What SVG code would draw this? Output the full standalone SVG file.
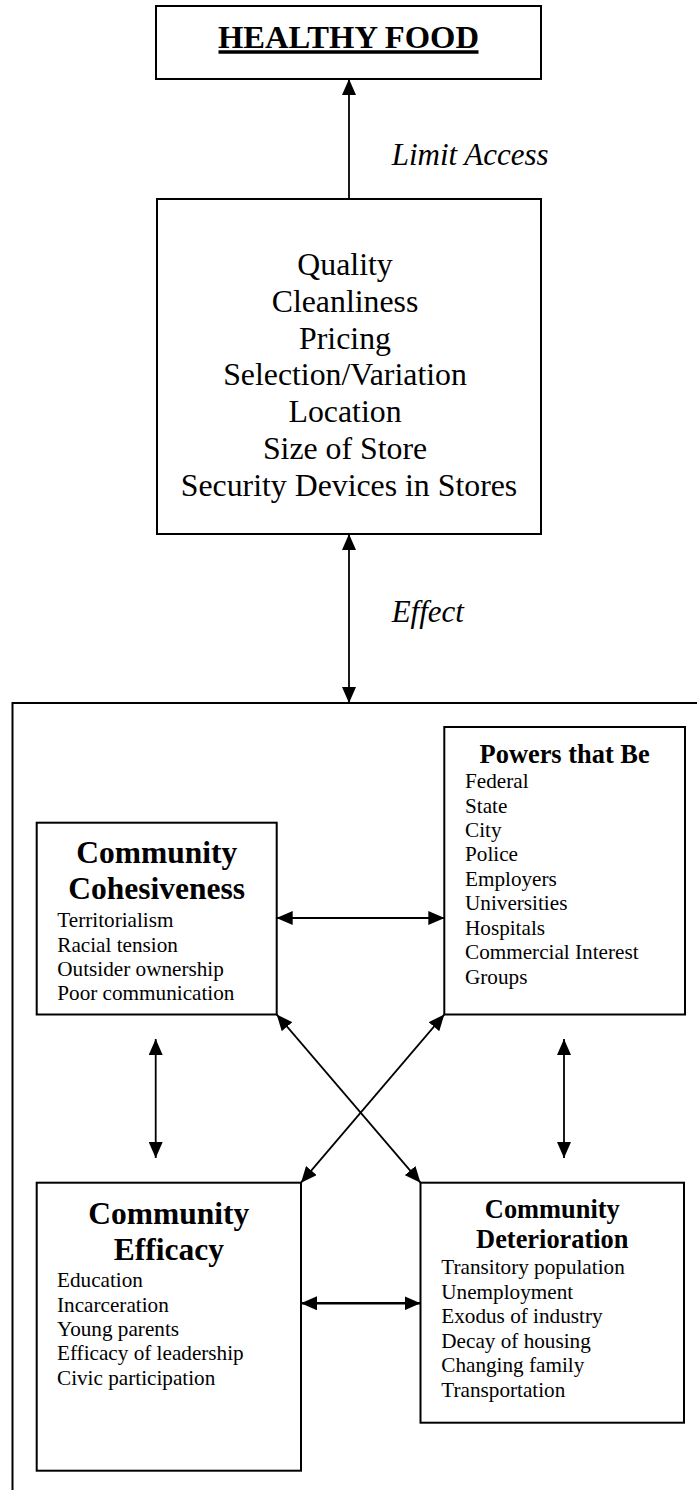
<svg xmlns="http://www.w3.org/2000/svg" width="698" height="1490" viewBox="0 0 698 1490">
<defs>
<style>
.box{fill:#fff;stroke:#000;stroke-width:2}
.frame{fill:none;stroke:#000;stroke-width:2}
.con{fill:none;stroke:#000;stroke-width:1.8}
.t{font-family:"Liberation Serif","Times New Roman",serif;fill:#000}
.big{font-size:31.8px}
.it{font-style:italic;font-size:31px}
.ttl{font-weight:bold;font-size:31.5px}
.ttl2{font-weight:bold;font-size:26.4px}
.body{font-size:21.2px}
</style>
<marker id="ah" viewBox="0 0 16 14" markerWidth="16" markerHeight="14" refX="16" refY="7" orient="auto-start-reverse" markerUnits="userSpaceOnUse">
<path d="M0,0 L16,7 L0,14 z" fill="#000"/>
</marker>
</defs>
<rect width="698" height="1490" fill="#fff"/>

<g id="connectors">
<line class="con" x1="349" y1="199" x2="349" y2="79" marker-end="url(#ah)"/>
<line class="con" x1="349" y1="534" x2="349" y2="703" marker-start="url(#ah)" marker-end="url(#ah)"/>
<line class="con" x1="276.7" y1="918" x2="444.3" y2="918" marker-start="url(#ah)" marker-end="url(#ah)"/>
<line class="con" x1="155.7" y1="1039" x2="155.7" y2="1158" marker-start="url(#ah)" marker-end="url(#ah)"/>
<line class="con" x1="564" y1="1039" x2="564" y2="1158" marker-start="url(#ah)" marker-end="url(#ah)"/>
<line class="con" x1="276.7" y1="1014.5" x2="420.5" y2="1182.7" marker-start="url(#ah)" marker-end="url(#ah)"/>
<line class="con" x1="444.3" y1="1014.5" x2="301" y2="1182.7" marker-start="url(#ah)" marker-end="url(#ah)"/>
<line class="con" style="stroke-width:2.6" x1="301" y1="1303.3" x2="420.5" y2="1303.3" marker-start="url(#ah)" marker-end="url(#ah)"/>
<text class="t it" x="391.7" y="165">Limit Access</text>
<text class="t it" x="391.7" y="621.7">Effect</text>
</g>

<g id="healthy-food">
<rect class="box" x="156" y="6" width="385" height="73"/>
<text class="t" x="348.5" y="48" text-anchor="middle" font-weight="bold" font-size="32.6">HEALTHY FOOD</text>
<line x1="218.5" y1="52" x2="478.5" y2="52" stroke="#000" stroke-width="3.5"/>
</g>

<g id="store-factors">
<rect class="box" x="157" y="199" width="384" height="335"/>
<text class="t big" text-anchor="middle">
<tspan x="349" y="275">Quality</tspan>
<tspan x="349" y="311.8">Cleanliness</tspan>
<tspan x="349" y="348.6">Pricing</tspan>
<tspan x="349" y="385.4">Selection/Variation</tspan>
<tspan x="349" y="422.2">Location</tspan>
<tspan x="349" y="459">Size of Store</tspan>
<tspan x="349" y="495.8">Security Devices in Stores</tspan>
</text>
</g>

<g id="community-frame">
<path class="frame" d="M12.5,1490 L12.5,703 L697,703"/>
</g>

<g id="cohesiveness">
<rect class="box" x="36.7" y="822.7" width="240" height="191.8"/>
<text class="t ttl" text-anchor="middle"><tspan x="156.7" y="863.3">Community</tspan><tspan x="156.7" y="899.3">Cohesiveness</tspan></text>
<text class="t body">
<tspan x="57.3" y="927.3">Territorialism</tspan>
<tspan x="57.3" y="951.7">Racial tension</tspan>
<tspan x="57.3" y="976">Outsider ownership</tspan>
<tspan x="57.3" y="1000">Poor communication</tspan>
</text>
</g>

<g id="powers">
<rect class="box" x="444.3" y="727" width="240.7" height="287.5"/>
<text class="t ttl2" x="564.6" y="762.7" text-anchor="middle">Powers that Be</text>
<text class="t body">
<tspan x="465" y="788.3">Federal</tspan>
<tspan x="465" y="812.6">State</tspan>
<tspan x="465" y="836.9">City</tspan>
<tspan x="465" y="861.2">Police</tspan>
<tspan x="465" y="885.5">Employers</tspan>
<tspan x="465" y="910">Universities</tspan>
<tspan x="465" y="934.6">Hospitals</tspan>
<tspan x="465" y="959.3">Commercial Interest</tspan>
<tspan x="465" y="984">Groups</tspan>
</text>
</g>

<g id="efficacy">
<rect class="box" x="36.7" y="1182.7" width="264.3" height="288"/>
<text class="t ttl" text-anchor="middle"><tspan x="168.8" y="1224">Community</tspan><tspan x="168.8" y="1260">Efficacy</tspan></text>
<text class="t body">
<tspan x="57" y="1287.3">Education</tspan>
<tspan x="57" y="1311.5">Incarceration</tspan>
<tspan x="57" y="1335.8">Young parents</tspan>
<tspan x="57" y="1360.2">Efficacy of leadership</tspan>
<tspan x="57" y="1384.5">Civic participation</tspan>
</text>
</g>

<g id="deterioration">
<rect class="box" x="420.5" y="1182.7" width="263.5" height="240"/>
<text class="t ttl2" text-anchor="middle"><tspan x="552.3" y="1218.3">Community</tspan><tspan x="552.3" y="1248.3">Deterioration</tspan></text>
<text class="t body">
<tspan x="441.3" y="1274">Transitory population</tspan>
<tspan x="441.3" y="1298.5">Unemployment</tspan>
<tspan x="441.3" y="1323">Exodus of industry</tspan>
<tspan x="441.3" y="1347.5">Decay of housing</tspan>
<tspan x="441.3" y="1372">Changing family</tspan>
<tspan x="441.3" y="1396.5">Transportation</tspan>
</text>
</g>
</svg>
